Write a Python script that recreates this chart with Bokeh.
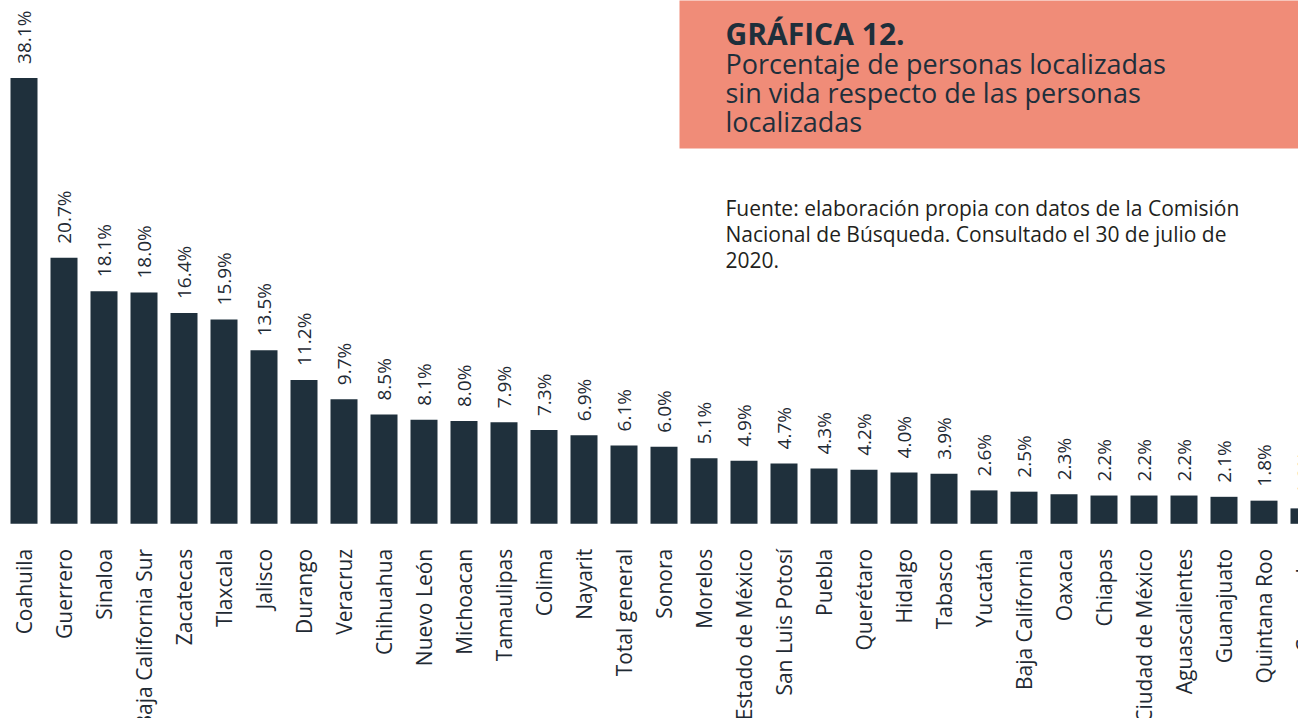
import math
from bokeh.plotting import figure
from bokeh.models import ColumnDataSource, Range1d, Label
from bokeh.core.properties import value
from bokeh.embed import file_html
from bokeh.resources import INLINE

# ---------------- data ----------------
estados = ["Coahuila", "Guerrero", "Sinaloa", "Baja California Sur", "Zacatecas",
           "Tlaxcala", "Jalisco", "Durango", "Veracruz", "Chihuahua", "Nuevo León",
           "Michoacan", "Tamaulipas", "Colima", "Nayarit", "Total general", "Sonora",
           "Morelos", "Estado de México", "San Luis Potosí", "Puebla", "Querétaro",
           "Hidalgo", "Tabasco", "Yucatán", "Baja California", "Oaxaca", "Chiapas",
           "Ciudad de México", "Aguascalientes", "Guanajuato", "Quintana Roo", "Campeche"]
porcentajes = [38.1, 20.7, 18.1, 18.0, 16.4, 15.9, 13.5, 11.2, 9.7, 8.5, 8.1,
               8.0, 7.9, 7.3, 6.9, 6.1, 6.0, 5.1, 4.9, 4.7, 4.3, 4.2,
               4.0, 3.9, 2.6, 2.5, 2.3, 2.2, 2.2, 2.2, 2.1, 1.8, 1.2]
titulo = "GRÁFICA 12."
subtitulo = ["Porcentaje de personas localizadas",
             "sin vida respecto de las personas",
             "localizadas"]
fuente = ["Fuente: elaboración propia con datos de la Comisión",
          "Nacional de Búsqueda. Consultado el 30 de julio de",
          "2020."]

# ---------------- layout / style ----------------
W, H = 1298, 718
PX_X = 40.0            # px per category
PX_Y = 12.85           # px per percentage point
BASE = 523.3           # baseline position (px from top of figure)
TOPE = 34.7            # visual cap of the tallest (broken) bar
BAR_COLOR = "#1F303C"
TEXT_COLOR = "#1F2A33"
BOX_COLOR = "#F08C78"
FONT = "Open Sans"

x0 = -23.5 / PX_X
x1 = x0 + W / PX_X
y1 = BASE / PX_Y
y0 = -(H - BASE) / PX_Y

def dx(px):
    return x0 + px / PX_X

def dy(py):
    return y1 - py / PX_Y

xs = list(range(len(estados)))
alto = [min(v, TOPE) for v in porcentajes]
src = ColumnDataSource(dict(
    x=xs, v=porcentajes, alto=alto,
    lab_y=[a + 14 / PX_Y for a in alto],
    lab=[f"{v:.1f}%" for v in porcentajes],
    cat=estados,
    cat_y=[-25 / PX_Y] * len(estados),
))

p = figure(width=W, height=H, x_range=Range1d(x0, x1), y_range=Range1d(y0, y1),
           output_backend="svg", toolbar_location=None,
           x_axis_location=None, y_axis_location=None, min_border=0)
p.outline_line_color = None
p.grid.visible = False
p.background_fill_color = "white"
p.border_fill_color = "white"

# title box
p.quad(left=dx(679), right=x1 + 1, bottom=dy(148), top=y1 + 1,
       fill_color=BOX_COLOR, line_color=None)

# bars
p.vbar(x="x", top="alto", bottom=0, width=27 / PX_X, source=src,
       fill_color=BAR_COLOR, line_color=None)

# value labels
p.text(x="x", y="lab_y", text="lab", source=src, angle=math.pi / 2,
       text_align="left", text_baseline="middle",
       text_font=value(FONT), text_font_size="19px", text_color=TEXT_COLOR)

# category labels
p.text(x="x", y="cat_y", text="cat", source=src, angle=math.pi / 2,
       text_align="right", text_baseline="middle",
       text_font=value(FONT), text_font_size="21px", text_color=TEXT_COLOR)

# titles
p.add_layout(Label(x=dx(725), y=dy(33), text=titulo, text_font=FONT,
                   text_font_size="30px", text_font_style="bold",
                   text_color="#1E2F3B", text_baseline="alphabetic"))
for i, t in enumerate(subtitulo):
    p.add_layout(Label(x=dx(725), y=dy(63 + 29 * i), text=t, text_font=FONT,
                       text_font_size="27px", text_color="#1E2F3B",
                       text_baseline="alphabetic"))
for i, t in enumerate(fuente):
    p.add_layout(Label(x=dx(725), y=dy(207 + 26 * i), text=t, text_font=FONT,
                       text_font_size="21px", text_color="#231F20",
                       text_baseline="alphabetic"))

open("out.html", "w").write(file_html(p, INLINE))
